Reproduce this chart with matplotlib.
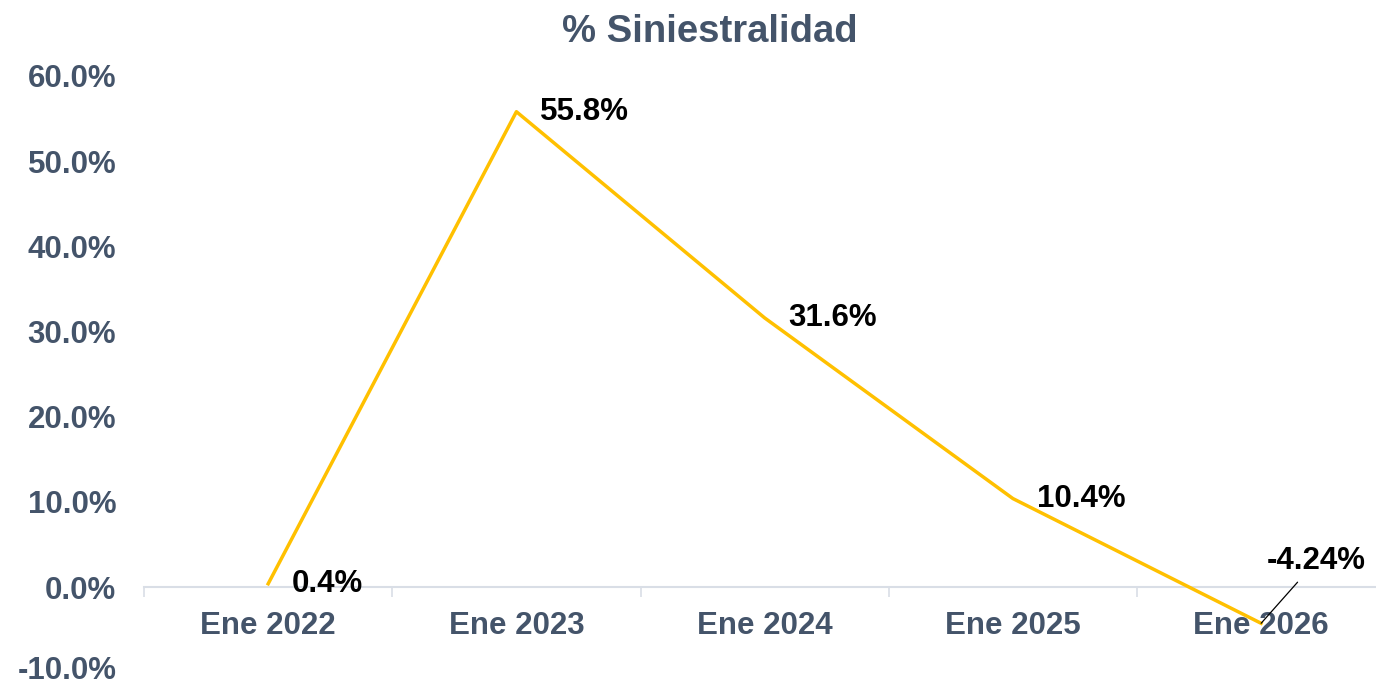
import matplotlib
matplotlib.use("Agg")
import matplotlib.pyplot as plt
import matplotlib.transforms as mtransforms
from matplotlib.ticker import FuncFormatter, FixedLocator

# data
categories = ["Ene 2022", "Ene 2023", "Ene 2024", "Ene 2025", "Ene 2026"]
values     = [0.4, 55.8, 31.6, 10.4, -4.24]
labels     = ["0.4%", "55.8%", "31.6%", "10.4%", "-4.24%"]

C_LINE  = "#FFC000"
C_SLATE = "#44546A"
C_AXIS  = "#D9DEE6"

plt.rcParams["font.family"] = ["Liberation Sans", "DejaVu Sans"]
plt.rcParams["font.weight"] = "bold"

fig = plt.figure(figsize=(13.76, 6.84), dpi=100)
ax = fig.add_axes([0.1047, 0.017, 0.902, 0.872])

x = list(range(len(categories)))
ax.plot(x, values, color=C_LINE, linewidth=2.5, solid_joinstyle="round", zorder=3)

ax.set_xlim(-0.5, len(categories) - 0.5)
ax.set_ylim(-10, 60)
ax.set_yticks(range(-10, 61, 10))
ax.yaxis.set_major_formatter(FuncFormatter(lambda v, p: f"{v:.1f}%"))
ax.tick_params(axis="y", length=0, pad=20, labelsize=22.5, labelcolor=C_SLATE)

# category axis crosses at zero
for s in ["left", "right", "top"]:
    ax.spines[s].set_visible(False)
ax.spines["bottom"].set_position(("data", 0))
ax.spines["bottom"].set_color(C_AXIS)
ax.spines["bottom"].set_linewidth(1.5)
ax.set_xticks(x)
ax.set_xticklabels(categories)
ax.tick_params(axis="x", which="major", length=0, pad=17, labelsize=22.5, labelcolor=C_SLATE)
ax.xaxis.set_minor_locator(FixedLocator([i - 0.5 for i in range(len(categories) + 1)]))
ax.tick_params(axis="x", which="minor", length=7, width=1.2, color=C_AXIS, direction="out")

# keep the bottom tick label inside the figure
fig.canvas.draw()
lowest = ax.get_yticklabels()[0]
lowest.set_transform(lowest.get_transform() + mtransforms.ScaledTranslation(0, 5 / 100, fig.dpi_scale_trans))

# data labels
for i, (v, t) in enumerate(zip(values, labels)):
    if v < 0:
        ax.annotate(t, xy=(i, v), xytext=(55, 62), textcoords="offset pixels",
                    ha="center", va="center", fontsize=22.5, fontweight="bold", color="black",
                    arrowprops=dict(arrowstyle="-", color="black", lw=0.9, shrinkA=3, shrinkB=0))
    else:
        ax.annotate(t, xy=(i, v), xytext=(24, 0), textcoords="offset pixels",
                    ha="left", va="center", fontsize=22.5, fontweight="bold", color="black")

fig.text(710 / 1376, 1 - 32 / 684, "% Siniestralidad", ha="center", va="center",
         fontsize=27.5, fontweight="bold", color=C_SLATE)

fig.savefig("out.png", dpi=100)
